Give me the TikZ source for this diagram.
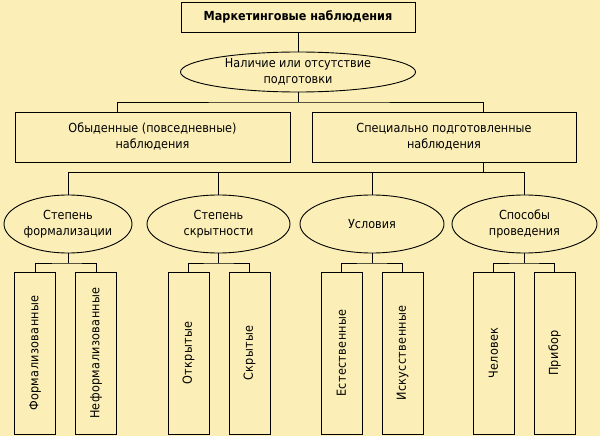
\documentclass[tikz,border=0pt]{standalone}
\usepackage{fontspec}
\setmainfont{DejaVu Sans Condensed}
\usetikzlibrary{shapes.geometric}
\definecolor{bgcol}{RGB}{251,239,183}
\begin{document}
\begin{tikzpicture}[x=1pt, y=-1pt, line width=.9pt,
    box/.style={draw, fill=bgcol, align=center, inner sep=0pt, font=\fontsize{12.5}{16}\selectfont},
    oval/.style={box, ellipse},
    leaf/.style={box, minimum width=41, minimum height=162, font=\fontsize{12.5}{16}\selectfont\addfontfeature{LetterSpace=3}}]
\fill[bgcol] (0,0) rectangle (600,436);
\useasboundingbox (0,0) rectangle (600,436);

\node[box, minimum width=234, minimum height=30, font=\bfseries\fontsize{12.5}{16}\selectfont] (title) at (298,17) {Маркетинговые наблюдения};
\node[oval, minimum width=235, minimum height=40] (nal) at (298,72) {Наличие или отсутствие\\подготовки};

\node[box, minimum width=275, minimum height=50] (obd) at (152.5,137) {Обыденные (повседневные)\\наблюдения};
\node[box, minimum width=264, minimum height=50] (spec) at (444,137) {Специально подготовленные\\наблюдения};

\node[oval, minimum width=128, minimum height=58] (e1) at (68,224) {Степень\\формализации};
\node[oval, minimum width=143, minimum height=58] (e2) at (218.5,224) {Степень\\скрытности};
\node[oval, minimum width=144, minimum height=58] (e3) at (372,224) {Условия};
\node[oval, minimum width=145, minimum height=58] (e4) at (524.5,224) {Способы\\проведения};

\foreach \n/\x/\t in {f1/35/Формализованные, f2/96/Неформализованные, f3/188.5/Открытые, f4/249.5/Скрытые,
    f5/341.5/Естественные, f6/402.5/Искусственные, f7/493.5/Человек, f8/554.5/Прибор}
{
    \node[leaf] (\n) at (\x,353) {\rotatebox{90}{\t}};
}

\coordinate (j0) at (298,102);
\coordinate (j1) at (483,172);
\coordinate (lv) at (0,263);

\draw (title) -- (nal);
\draw (nal) -- (j0);
\draw (obd.north -| 117,0) |- (j0) -| (spec.north -| j1);
\draw (spec.south -| j1) -- (j1);
\draw (e1.north |- j1) -- (e4.north |- j1);
\foreach \e in {e1,e2,e3,e4}
    \draw (\e.north) -- (\e.north |- j1);
\foreach \e/\a/\b in {e1/f1/f2, e2/f3/f4, e3/f5/f6, e4/f7/f8}
{
    \draw (\e.south) -- (\e.south |- lv);
    \draw (\a.north) |- (\e.south |- lv) -| (\b.north);
}

\end{tikzpicture}
\end{document}
